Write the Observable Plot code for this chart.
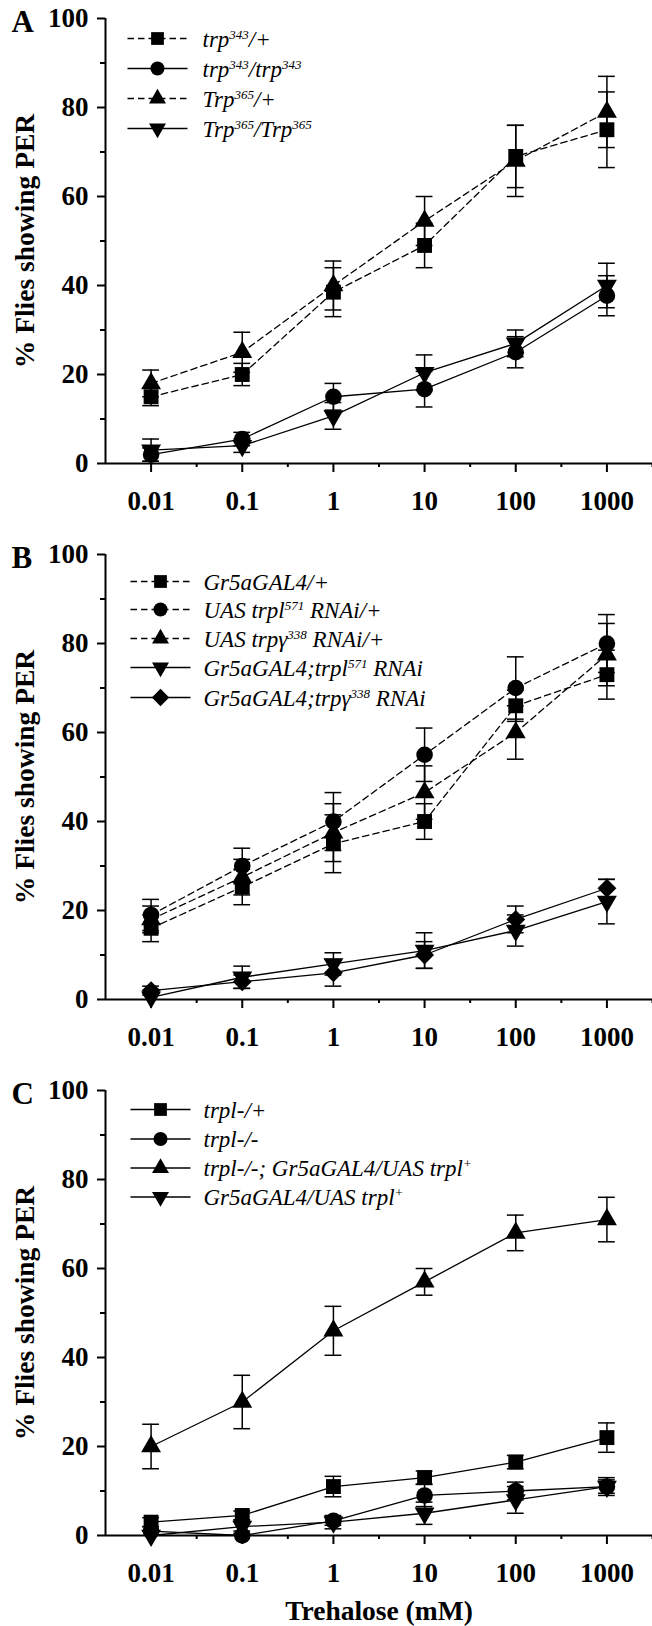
<!DOCTYPE html>
<html>
<head>
<meta charset="utf-8">
<script src="https://cdn.jsdelivr.net/npm/d3@7"></script>
<script src="https://cdn.jsdelivr.net/npm/@observablehq/plot@0.6"></script>
<style>
  html, body { margin: 0; padding: 0; background: #fff; }
  #chart { width: 652px; }
  #chart svg { display: block; }
</style>
</head>
<body>
<div id="chart"></div>
<script>
// ---------- DATA ----------
const concentrations = ["0.01", "0.1", "1", "10", "100", "1000"];

// Panel A
const A_trp343_het = [15, 20, 38.5, 49, 69, 75];
const A_trp343_het_se = [2, 2.5, 5.5, 5, 7, 8.5];
const A_trp343_hom = [2, 5.5, 15, 16.7, 25, 37.7];
const A_trp343_hom_se = [1.5, 1.5, 3, 4, 3.5, 4.5];
const A_Trp365_het = [18, 25, 40, 54.5, 68, 79];
const A_Trp365_het_se = [3, 4.5, 5.5, 5.5, 8, 8];
const A_Trp365_hom = [3, 4, 10.7, 20.4, 27, 40];
const A_Trp365_hom_se = [2.5, 1.5, 3, 4, 3, 5];
const A_labels = ["trp^343/+", "trp^343/trp^343", "Trp^365/+", "Trp^365/Trp^365"];

// Panel B
const B_gr5a = [16, 25.3, 35, 40, 66, 73];
const B_gr5a_se = [3, 4, 6.5, 4, 3.5, 5.5];
const B_uasTrpl = [19, 30, 40, 55, 70, 80];
const B_uasTrpl_se = [3.5, 4, 6.5, 6, 7, 6.5];
const B_uasTrpg = [18, 27.5, 37.5, 46.5, 60, 77.5];
const B_uasTrpg_se = [3, 4, 6.5, 6, 6, 7];
const B_trplRNAi = [0.5, 5, 8, 11, 15.5, 22];
const B_trplRNAi_se = [1, 2.5, 2.5, 4, 3.5, 5];
const B_trpgRNAi = [2, 4, 6, 10, 18, 25];
const B_trpgRNAi_se = [1, 1.5, 3, 3, 3, 2];
const B_labels = ["Gr5aGAL4/+", "UAS trpl^571 RNAi/+", "UAS trpγ^338 RNAi/+", "Gr5aGAL4;trpl^571 RNAi", "Gr5aGAL4;trpγ^338 RNAi"];

// Panel C
const C_het = [3, 4.5, 11, 13, 16.5, 22];
const C_het_se = [1, 1, 2.3, 1.5, 1.5, 3.3];
const C_hom = [1, 0, 3.3, 9, 10, 11];
const C_hom_se = [1, 1, 1, 2.5, 2, 1.5];
const C_rescue = [20, 30, 46, 57, 68, 71];
const C_rescue_se = [5, 6, 5.5, 3, 4, 5];
const C_uas = [0, 2, 3, 5, 8, 11];
const C_uas_se = [1, 1.5, 1.5, 2.5, 3, 2];
const C_labels = ["trpl-/+", "trpl-/-", "trpl-/-; Gr5aGAL4/UAS trpl^+", "Gr5aGAL4/UAS trpl^+"];

const yTicks = [0, 20, 40, 60, 80, 100];
const yMinor = [10, 30, 50, 70, 90];

// ---------- STYLE ----------
const FONT = '"Liberation Serif", "Times New Roman", Times, serif';
const symbolStyles = {
  square:  {symbol: "square",   r: 8.4, lr: 7.2, rotate: 0},
  circle:  {symbol: "circle",   r: 8.3, lr: 7.0, rotate: 0},
  up:      {symbol: "triangle", r: 7.4, lr: 6.3, rotate: 0},
  down:    {symbol: "triangle", r: 7.4, lr: 6.3, rotate: 180},
  diamond: {symbol: "diamond2", r: 8.5, lr: 7.8, rotate: 0}
};
const legendLine = {draw(ctx) { ctx.moveTo(-30, 0); ctx.lineTo(30, 0); }};
const DASH = "6.5,4";

function makeSeries(labels, means, ses, shapes, dashed) {
  return labels.map((label, k) => ({label, mean: means[k], se: ses[k], shape: shapes[k], dashed: dashed[k]}));
}

const panels = [
  {
    letter: "A", height: 536, marginBottom: 73, xTitle: null,
    legendRows: [20, 50, 80, 110], legendDx: 52, textDx: 97,
    series: makeSeries(A_labels,
      [A_trp343_het, A_trp343_hom, A_Trp365_het, A_Trp365_hom],
      [A_trp343_het_se, A_trp343_hom_se, A_Trp365_het_se, A_Trp365_hom_se],
      ["square", "circle", "up", "down"], [true, false, true, false])
  },
  {
    letter: "B", height: 536, marginBottom: 73, xTitle: null,
    legendRows: [27, 55, 84, 113, 143], legendDx: 55, textDx: 98,
    series: makeSeries(B_labels,
      [B_gr5a, B_uasTrpl, B_uasTrpg, B_trplRNAi, B_trpgRNAi],
      [B_gr5a_se, B_uasTrpl_se, B_uasTrpg_se, B_trplRNAi_se, B_trpgRNAi_se],
      ["square", "circle", "up", "down", "diamond"], [true, true, true, false, false])
  },
  {
    letter: "C", height: 554, marginBottom: 91, xTitle: "Trehalose (mM)",
    legendRows: [19, 48.5, 77.5, 106.5], legendDx: 55, textDx: 98,
    series: makeSeries(C_labels,
      [C_het, C_hom, C_rescue, C_uas],
      [C_het_se, C_hom_se, C_rescue_se, C_uas_se],
      ["square", "circle", "up", "down"], [false, false, false, false])
  }
];

function applySup(el) {
  const s = el.textContent;
  if (!s.includes("^")) return;
  el.textContent = "";
  const parts = s.split(/\^([0-9+]+)/);
  let raised = false;
  parts.forEach((p, k) => {
    if (!p) return;
    const t = document.createElementNS("http://www.w3.org/2000/svg", "tspan");
    t.textContent = p;
    if (k % 2 === 1) { t.setAttribute("font-size", 13); t.setAttribute("dy", -8); raised = true; }
    else if (raised) { t.setAttribute("dy", 8); raised = false; }
    el.appendChild(t);
  });
}

function drawPanel(p) {
  const lines = [], errs = [], dots = [], legend = [];
  p.series.forEach((s, k) => {
    const st = symbolStyles[s.shape];
    const rows = s.mean.map((v, i) => ({i, y: v, e: s.se[i]}));
    lines.push(Plot.line(rows, {x: "i", y: "y", stroke: "black", strokeWidth: 1.3,
      strokeDasharray: s.dashed ? DASH : null}));
    errs.push(Plot.ruleX(rows, {x: "i", y1: d => Math.max(0, d.y - d.e), y2: d => d.y + d.e, stroke: "black", strokeWidth: 1.5}));
    errs.push(Plot.ruleY(rows, {y: d => d.y + d.e, x1: d => d.i - 0.092, x2: d => d.i + 0.092, stroke: "black", strokeWidth: 1.5}));
    errs.push(Plot.ruleY(rows.filter(d => d.y - d.e > 0), {y: d => d.y - d.e, x1: d => d.i - 0.092, x2: d => d.i + 0.092, stroke: "black", strokeWidth: 1.5}));
    dots.push(Plot.dot(rows, {x: "i", y: "y", symbol: st.symbol, r: st.r, rotate: st.rotate, fill: "black", stroke: "none"}));

    const dy = p.legendRows[k];
    legend.push(Plot.dot([0], {frameAnchor: "top-left", dx: p.legendDx, dy, symbol: legendLine,
      fill: "none", stroke: "black", strokeWidth: 1.3, strokeDasharray: s.dashed ? DASH : null}));
    legend.push(Plot.dot([0], {frameAnchor: "top-left", dx: p.legendDx, dy, symbol: st.symbol, r: st.lr,
      rotate: st.rotate, fill: "black", stroke: "none"}));
    legend.push(Plot.text([s.label], {frameAnchor: "top-left", dx: p.textDx, dy: dy + 1, text: d => d,
      textAnchor: "start", lineAnchor: "middle", fontSize: 23, fontStyle: "italic", fontWeight: "normal", fill: "black"}));
  });

  const marks = [
    Plot.ruleY([0], {stroke: "black", strokeWidth: 2}),
    Plot.ruleX([-0.5], {y1: 0, y2: 100, stroke: "black", strokeWidth: 2}),
    Plot.axisY({ticks: yTicks, tickSize: 8, tickPadding: 9, tickFormat: d => String(d), strokeWidth: 2, label: null}),
    Plot.axisY({ticks: yMinor, tickSize: 5, tickFormat: () => "", strokeWidth: 2, label: null}),
    Plot.axisX({ticks: [0, 1, 2, 3, 4, 5], tickSize: 9, tickPadding: 18, tickFormat: i => concentrations[i], strokeWidth: 2, label: null}),
    Plot.axisX({ticks: [0.5, 1.5, 2.5, 3.5, 4.5, 5.5], tickSize: 4, tickFormat: () => "", strokeWidth: 2, label: null}),
    Plot.text(["% Flies showing PER"], {frameAnchor: "left", dx: -80, rotate: -90, text: d => d,
      textAnchor: "middle", lineAnchor: "middle", fontSize: 27.5, fontWeight: "bold"}),
    Plot.text([p.letter], {frameAnchor: "top-left", dx: -94, dy: 4, text: d => d, textAnchor: "start",
      lineAnchor: "middle", fontSize: 31, fontWeight: "bold"}),
    ...lines, ...errs, ...dots, ...legend
  ];
  if (p.xTitle) {
    marks.push(Plot.text([p.xTitle], {frameAnchor: "bottom", dy: 76, text: d => d, textAnchor: "middle",
      lineAnchor: "middle", fontSize: 27.5, fontWeight: "bold"}));
  }

  const svg = Plot.plot({
    width: 652,
    height: p.height,
    marginTop: 18,
    marginBottom: p.marginBottom,
    marginLeft: 105,
    marginRight: 0,
    x: {domain: [-0.5, 5.5]},
    y: {domain: [0, 100]},
    style: {fontFamily: FONT, fontSize: "27px", fontWeight: "bold", color: "black", background: "white", overflow: "visible"},
    marks
  });
  d3.select(svg).selectAll("text").each(function() { applySup(this); });
  return svg;
}

const container = document.getElementById("chart");
panels.forEach(p => container.appendChild(drawPanel(p)));
</script>
</body>
</html>
